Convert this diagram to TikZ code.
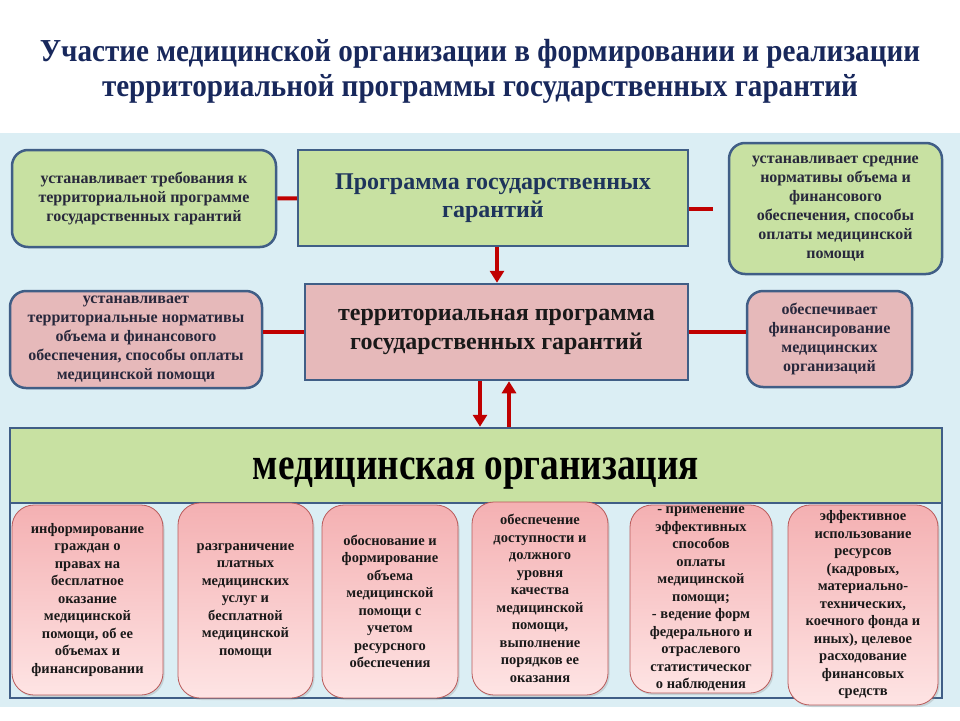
\documentclass[tikz,border=0pt]{standalone}
\usepackage{fontspec}
\setmainfont{Liberation Serif}
\newfontfamily\titlefont[FakeStretch=0.91]{Liberation Serif}
\newfontfamily\orgfont[FakeStretch=0.81]{Liberation Serif}
\usetikzlibrary{calc,positioning,arrows.meta,shadows}
\definecolor{panelblue}{RGB}{219,238,244}
\definecolor{frameblue}{RGB}{64,94,134}
\definecolor{boxgreen}{RGB}{200,225,162}
\definecolor{boxpink}{RGB}{230,185,186}
\definecolor{linkred}{RGB}{192,0,0}
\definecolor{titleblue}{RGB}{24,40,92}
\definecolor{progblue}{RGB}{30,52,92}
\definecolor{sidetext}{RGB}{40,40,60}
\definecolor{dutyedge}{RGB}{185,90,90}
\definecolor{dutytop}{RGB}{244,176,178}
\definecolor{dutybottom}{RGB}{254,228,228}
\tikzset{
    >=Triangle,
    sidebox/.style={
        rectangle,
        rounded corners=16pt,
        draw=frameblue, line width=2.5pt,
        inner sep=0pt,
        align=center,
        text=sidetext,
        font=\bfseries\fontsize{16}{19}\selectfont
    },
    greenround/.style={sidebox, fill=boxgreen},
    pinkround/.style={sidebox, fill=boxpink},
    programbox/.style={
        rectangle,
        draw=frameblue, line width=2.5pt,
        inner sep=0pt,
        align=center,
        font=\bfseries\fontsize{24}{28.5}\selectfont
    },
    dutybox/.style={
        rectangle,
        rounded corners=22pt,
        draw=dutyedge, line width=0.8pt,
        top color=dutytop,
        bottom color=dutybottom,
        drop shadow={opacity=0.25, shadow xshift=1.5pt, shadow yshift=-2pt},
        inner sep=0pt,
        align=center,
        text=black!90,
        font=\bfseries\fontsize{14.5}{17.5}\selectfont
    },
    link/.style={draw=linkred, line width=4pt},
    flow/.style={draw=linkred, line width=3.5pt, -{Triangle[width=14pt,length=12pt]}}
}
\begin{document}
\begin{tikzpicture}[
            x=1pt, y=-1pt,
            titleline/.style={
                anchor=base,
                text=titleblue,
                font=\titlefont\bfseries\fontsize{32}{34}\selectfont
            }]
    \useasboundingbox (0,0) rectangle (960,720);
    \fill[panelblue] (0,133) rectangle (960,707);

    \node[titleline] (title1) at (480,61) {Участие медицинской организации в формировании и реализации};
    \node[titleline] (title2) at (480,96) {территориальной программы государственных гарантий};

    \node[programbox, fill=boxgreen, text=progblue, minimum width=390pt, minimum height=96pt]
        (program) at (493,198) {Программа государственных\\гарантий};
    \node[greenround, minimum width=264pt, minimum height=97pt]
        (reqbox) at (144,198.5) {устанавливает требования к\\территориальной программе\\государственных гарантий};
    \node[greenround, minimum width=213pt, minimum height=131pt]
        (avgbox) at (835.5,208.5) {устанавливает средние\\нормативы объема и\\финансового\\обеспечения, способы\\оплаты медицинской\\помощи};

    \node[programbox, fill=boxpink, text=black!90, minimum width=383pt, minimum height=96pt]
        (terr) at (496.5,332) {территориальная программа\\государственных гарантий};
    \node[pinkround, minimum width=252pt, minimum height=97pt]
        (normbox) at (136,339.5) {устанавливает\\территориальные нормативы\\объема и финансового\\обеспечения, способы оплаты\\медицинской помощи};
    \node[pinkround, minimum width=165pt, minimum height=96pt]
        (fundbox) at (829.5,339) {обеспечивает\\финансирование\\медицинских\\организаций};

    \node[draw=frameblue, line width=2.5pt, fill=panelblue, minimum width=932pt, minimum height=270pt]
        (orgframe) at (476,563) {};
    \node[programbox, fill=boxgreen, text=black, minimum width=932pt, minimum height=75pt,
          text height=36pt, text depth=9pt,
          font=\orgfont\bfseries\fontsize{46}{50}\selectfont]
        (medorg) at (476,465.5) {медицинская организация};

    \node[dutybox, minimum width=151pt, minimum height=190pt] (duty1) at (87.5,600)
        {информирование\\граждан о\\правах на\\бесплатное\\оказание\\медицинской\\помощи, об ее\\объемах и\\финансировании};
    \node[dutybox, minimum width=135pt, minimum height=195pt] (duty2) at (245.5,600.5)
        {разграничение\\платных\\медицинских\\услуг и\\бесплатной\\медицинской\\помощи};
    \node[dutybox, minimum width=136pt, minimum height=193pt] (duty3) at (390,601.5)
        {обоснование и\\формирование\\объема\\медицинской\\помощи с\\учетом\\ресурсного\\обеспечения};
    \node[dutybox, minimum width=136pt, minimum height=193pt] (duty4) at (540,598.5)
        {обеспечение\\доступности и\\должного\\уровня\\качества\\медицинской\\помощи,\\выполнение\\порядков ее\\оказания};
    \node[dutybox, minimum width=142pt, minimum height=188pt] (duty5) at (701,599)
        {- применение\\эффективных\\способов\\оплаты\\медицинской\\помощи;\\- ведение форм\\федерального и\\отраслевого\\статистическог\\о наблюдения};
    \node[dutybox, minimum width=150pt, minimum height=200pt] (duty6) at (863,605)
        {эффективное\\использование\\ресурсов\\(кадровых,\\материально-\\технических,\\коечного фонда и\\иных), целевое\\расходование\\финансовых\\средств};

    \draw[link] (reqbox) -- (program);
    \draw[link] (program.east |- avgbox.west) -- ([xshift=-15pt]avgbox.west);
    \draw[link] (terr.west) -- (terr.west -| normbox.east);
    \draw[link] (terr.east) -- (terr.east -| fundbox.west);

    \draw[flow] ([xshift=4pt]program.south) -- ([xshift=4pt]program.south |- terr.north);
    \draw[flow] ([xshift=-16.5pt]terr.south) -- ([xshift=-16.5pt]terr.south |- medorg.north);
    \draw[flow] ([xshift=12.5pt]terr.south |- medorg.north) -- ([xshift=12.5pt]terr.south);
\end{tikzpicture}
\end{document}
